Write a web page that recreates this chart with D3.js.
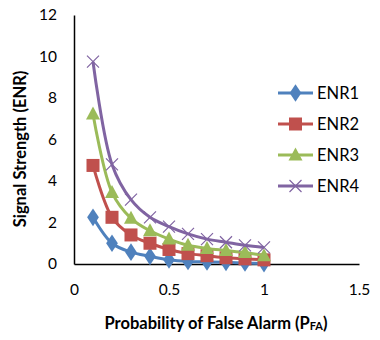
<!DOCTYPE html>
<html>
<head>
<meta charset="utf-8">
<script src="https://cdn.jsdelivr.net/npm/d3@7"></script>
<style>
  body { margin: 0; background: #fff; }
  svg { display: block; font-family: Lato, "Open Sans", sans-serif; }
</style>
</head>
<body>
<div id="chart"></div>
<script>
// data
const pfa = [0.1, 0.2, 0.3, 0.4, 0.5, 0.6, 0.7, 0.8, 0.9, 1.0];
const enr1 = [2.25, 1.0, 0.57, 0.37, 0.2, 0.12, 0.1, 0.08, 0.05, 0.02];
const enr2 = [4.75, 2.25, 1.4, 1.0, 0.7, 0.5, 0.4, 0.3, 0.25, 0.2];
const enr3 = [7.23, 3.45, 2.2, 1.6, 1.2, 0.9, 0.75, 0.65, 0.55, 0.4];
const enr4 = [9.75, 4.8, 3.1, 2.25, 1.8, 1.45, 1.2, 1.05, 0.9, 0.8];
const seriesNames = ['ENR1', 'ENR2', 'ENR3', 'ENR4'];
const xTicks = [0, 0.5, 1, 1.5];
const yTicks = [0, 2, 4, 6, 8, 10, 12];

const colors = ['#4F81BD', '#C0504D', '#9BBB59', '#8064A2'];
const markers = ['diamond', 'square', 'triangle', 'cross'];
const series = [enr1, enr2, enr3, enr4].map((vals, i) => ({
  name: seriesNames[i],
  color: colors[i],
  marker: markers[i],
  points: vals.map((v, j) => ({ x: pfa[j], y: v }))
}));

const W = 380, H = 340;
const margin = { top: 15, right: 21, bottom: 76, left: 74 };

const svg = d3.select('#chart').append('svg')
  .attr('width', W)
  .attr('height', H);

const x = d3.scaleLinear().domain([0, 1.5]).range([margin.left, W - margin.right]);
const y = d3.scaleLinear().domain([0, 12]).range([H - margin.bottom, margin.top]);

// axes (no tick marks, like the Excel original)
const xAxis = svg.append('g')
  .attr('transform', `translate(0,${y(0)})`)
  .call(d3.axisBottom(x).tickValues(xTicks).tickSize(0).tickPadding(20).tickFormat(d3.format('')));
const yAxis = svg.append('g')
  .attr('transform', `translate(${x(0)},0)`)
  .call(d3.axisLeft(y).tickValues(yTicks).tickSize(0).tickPadding(17));

[xAxis, yAxis].forEach(g => {
  g.select('.domain').attr('stroke', '#000').attr('stroke-width', 1.5);
  g.selectAll('text').attr('font-size', 15.5).attr('fill', '#000')
    .attr('font-family', 'Lato, "Open Sans", sans-serif');
});

// lines
const line = d3.line()
  .x(d => x(d.x))
  .y(d => y(d.y))
  .curve(d3.curveCatmullRom.alpha(0.5));

function drawMarker(g, type, color) {
  if (type === 'diamond') {
    g.append('path').attr('d', d3.symbol(d3.symbolDiamond, 90)()).attr('fill', color)
      .attr('transform', 'scale(1.15,1)');
  } else if (type === 'square') {
    g.append('rect').attr('x', -6.5).attr('y', -6.5).attr('width', 13).attr('height', 13).attr('fill', color);
  } else if (type === 'triangle') {
    g.append('path').attr('d', 'M0,-7.5L7,5.5L-7,5.5Z').attr('fill', color);
  } else {
    g.append('path').attr('d', 'M-6,-6L6,6M-6,6L6,-6').attr('stroke', color).attr('stroke-width', 1.2);
  }
}

const plot = svg.append('g');
series.forEach(s => {
  plot.append('path')
    .datum(s.points)
    .attr('fill', 'none')
    .attr('stroke', s.color)
    .attr('stroke-width', 3)
    .attr('stroke-linejoin', 'round')
    .attr('d', line);
  s.points.forEach(p => {
    const g = plot.append('g').attr('transform', `translate(${x(p.x)},${y(p.y)})`);
    drawMarker(g, s.marker, s.color);
  });
});

// legend
const legend = svg.append('g').attr('transform', 'translate(278,93)');
series.forEach((s, i) => {
  const row = legend.append('g').attr('transform', `translate(0,${i * 31})`);
  row.append('line').attr('x1', 0).attr('x2', 35).attr('y1', 0).attr('y2', 0)
    .attr('stroke', s.color).attr('stroke-width', 3);
  const m = row.append('g').attr('transform', 'translate(17.5,0)');
  drawMarker(m, s.marker, s.color);
  row.append('text').attr('x', 39).attr('y', 0).attr('dy', '0.36em')
    .attr('font-size', 16.5).attr('fill', '#000').text(s.name);
});

// axis titles
svg.append('text')
  .attr('transform', 'translate(26,149) rotate(-90)')
  .attr('text-anchor', 'middle')
  .attr('font-size', 16.5).attr('font-weight', 'bold')
  .text('Signal Strength (ENR)');

const xt = svg.append('text')
  .attr('x', 216).attr('y', 329)
  .attr('text-anchor', 'middle')
  .attr('font-size', 16.5).attr('font-weight', 'bold');
xt.append('tspan').text('Probability of False Alarm (P');
xt.append('tspan').attr('font-size', 11).attr('dy', 1).text('FA');
xt.append('tspan').attr('dy', -1).text(')');
</script>
</body>
</html>
